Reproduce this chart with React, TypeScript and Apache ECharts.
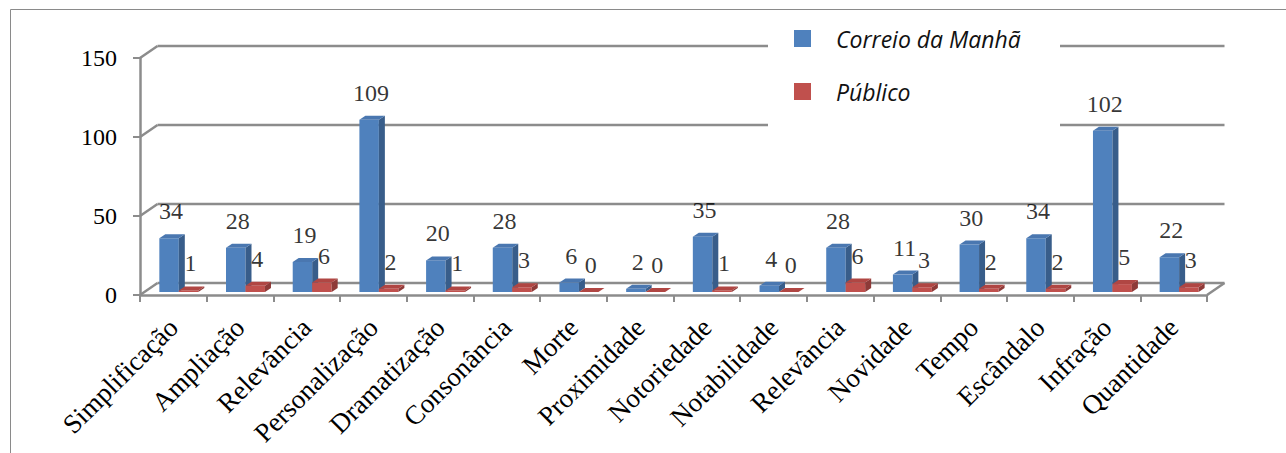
import React, { useEffect, useRef } from "react";
import * as echarts from "echarts";

const categories = [
  "Simplificação", "Ampliação", "Relevância", "Personalização", "Dramatização",
  "Consonância", "Morte", "Proximidade", "Notoriedade", "Notabilidade",
  "Relevância", "Novidade", "Tempo", "Escândalo", "Infração", "Quantidade",
];
const correioValues = [34, 28, 19, 109, 20, 28, 6, 2, 35, 4, 28, 11, 30, 34, 102, 22];
const publicoValues = [1, 4, 6, 2, 1, 3, 0, 0, 1, 0, 6, 3, 2, 2, 5, 3];
const yTicks = [0, 50, 100, 150];
const seriesNames = ["Correio da Manhã", "Público"];

const SERIF = "'Liberation Serif', 'Times New Roman', serif";
const WALL_DX = 17.5;
const WALL_DY = -12;
const BAR_DX = 6;
const BAR_DY = -4;
const GRID_COLOR = "#8c8c8c";

const palettes = [
  { front: "#4F81BD", side: "#385D8A", top: "#4A77B0" },
  { front: "#C0504D", side: "#8E3A38", top: "#B04643" },
];

function barRenderer(k: number) {
  return (params: any, api: any) => {
    const idx = api.value(0);
    const v = api.value(1);
    const p0 = api.coord([idx, 0]);
    const pv = api.coord([idx, v]);
    const catW = api.size([1, 0])[0];
    const faceW = catW * 0.292;
    const left = p0[0] - catW * 0.21 + k * faceW;
    const bottom = p0[1] - 3;
    const top = pv[1] - 3;
    const pal = palettes[k];
    return {
      type: "group",
      children: [
        {
          type: "rect",
          shape: { x: left, y: top, width: faceW, height: bottom - top },
          style: { fill: pal.front },
        },
        {
          type: "polygon",
          shape: {
            points: [
              [left + faceW, top],
              [left + faceW + BAR_DX, top + BAR_DY],
              [left + faceW + BAR_DX, bottom + BAR_DY],
              [left + faceW, bottom],
            ],
          },
          style: { fill: pal.side },
        },
        {
          type: "polygon",
          shape: {
            points: [
              [left, top],
              [left + BAR_DX, top + BAR_DY],
              [left + faceW + BAR_DX, top + BAR_DY],
              [left + faceW, top],
            ],
          },
          style: { fill: pal.top },
        },
      ],
    };
  };
}

function wallRenderer(params: any, api: any) {
  const v = api.value(1);
  const p = api.coord([0, v]);
  const cs = params.coordSys;
  const y = p[1];
  const x0 = cs.x;
  const x1 = cs.x + cs.width;
  const style = { stroke: GRID_COLOR, lineWidth: 2.5, fill: null };
  const children: any[] = [
    { type: "line", shape: { x1: x0 + WALL_DX, y1: y + WALL_DY, x2: x1 + WALL_DX, y2: y + WALL_DY }, style },
    { type: "line", shape: { x1: x0, y1: y, x2: x0 + WALL_DX, y2: y + WALL_DY }, style },
  ];
  if (v === 0) {
    children.push({ type: "line", shape: { x1: x1, y1: y, x2: x1 + WALL_DX, y2: y + WALL_DY }, style });
  }
  return { type: "group", children };
}

function labelSeries(name: string, values: number[], dx: number) {
  return {
    type: "scatter",
    name,
    z: 8,
    silent: true,
    symbolSize: 0,
    itemStyle: { color: "transparent" },
    data: values.map((v, i) => [i, v]),
    label: {
      show: true,
      position: "top",
      distance: 18,
      offset: [dx, 0],
      formatter: (p: any) => String(p.value[1]),
      fontFamily: SERIF,
      fontSize: 24,
      color: "#000",
    },
  };
}

export default function App() {
  const ref = useRef<HTMLDivElement>(null);
  useEffect(() => {
    if (!ref.current) return;
    const chart = echarts.init(ref.current, null, { renderer: "svg" });
    chart.setOption({
      animation: false,
      backgroundColor: "#ffffff",
      grid: { left: 140, top: 58, width: 1067, height: 237, containLabel: false },
      xAxis: {
        type: "category",
        data: categories,
        boundaryGap: true,
        axisLine: { show: true, lineStyle: { color: GRID_COLOR, width: 2.5 } },
        axisTick: { show: true, interval: 0, length: 7, lineStyle: { color: GRID_COLOR, width: 2 } },
        axisLabel: {
          interval: 0,
          rotate: 45,
          margin: 28,
          fontSize: 27,
          fontFamily: SERIF,
          color: "#000",
        },
        splitLine: { show: false },
      },
      yAxis: {
        type: "value",
        min: 0,
        max: 150,
        interval: 50,
        axisLine: { show: true, lineStyle: { color: GRID_COLOR, width: 2.5 } },
        axisTick: { show: true, length: 7, lineStyle: { color: GRID_COLOR, width: 2 } },
        axisLabel: { margin: 23, fontSize: 24, fontFamily: SERIF, color: "#000" },
        splitLine: { show: false },
      },
      legend: {
        data: seriesNames,
        orient: "vertical",
        left: 794,
        top: 16,
        padding: 0,
        icon: "rect",
        itemWidth: 17,
        itemHeight: 17,
        itemGap: 8,
        z: 6,
        textStyle: {
          fontFamily: "'Open Sans', sans-serif",
          fontStyle: "italic",
          fontSize: 23,
          lineHeight: 23,
          color: "#111",
          padding: [22, 0, 0, 20],
        },
      },
      graphic: {
        elements: [
          {
            type: "rect",
            z: 0,
            shape: { x: 10.5, y: 9.5, width: 1400, height: 600 },
            style: { fill: null, stroke: "#8a8a8a", lineWidth: 1 },
          },
          {
            type: "rect",
            z: 5,
            shape: { x: 768, y: 14, width: 292, height: 116 },
            style: { fill: "#ffffff" },
          },
        ],
      },
      series: [
        {
          type: "custom",
          name: "wall",
          z: 1,
          silent: true,
          renderItem: wallRenderer,
          data: yTicks.map((v) => [0, v]),
          encode: { x: 0, y: 1 },
        },
        {
          type: "custom",
          name: seriesNames[0],
          z: 2,
          itemStyle: { color: palettes[0].front },
          renderItem: barRenderer(0),
          data: correioValues.map((v, i) => [i, v]),
          encode: { x: 0, y: 1 },
        },
        {
          type: "custom",
          name: seriesNames[1],
          z: 3,
          itemStyle: { color: palettes[1].front },
          renderItem: barRenderer(1),
          data: publicoValues.map((v, i) => [i, v]),
          encode: { x: 0, y: 1 },
        },
        labelSeries("labels-correio", correioValues, -2.3),
        labelSeries("labels-publico", publicoValues, 17.2),
      ],
    });
    return () => chart.dispose();
  }, []);
  return (
    <div
      ref={ref}
      style={{ position: "absolute", left: 0, top: 0, width: 1286, height: 453 }}
    />
  );
}
